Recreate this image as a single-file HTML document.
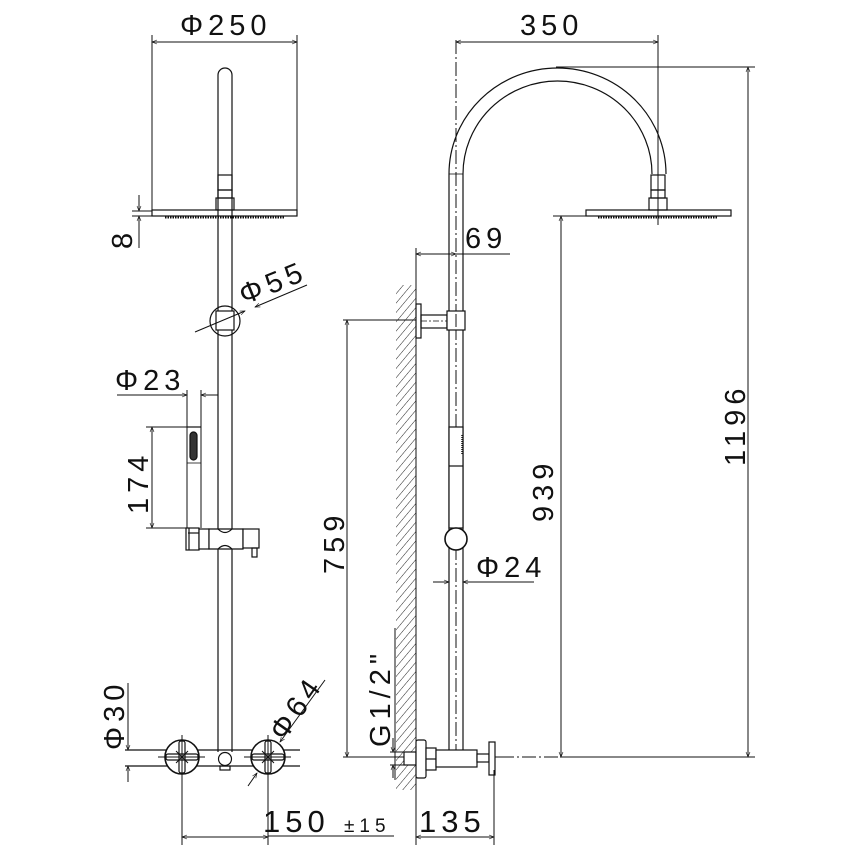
<!DOCTYPE html>
<html><head><meta charset="utf-8"><style>
html,body{margin:0;padding:0;background:#fff}
svg{display:block}
text{font-family:"Liberation Sans",sans-serif;fill:#111;letter-spacing:5px}
</style></head><body>
<svg width="852" height="852" viewBox="0 0 852 852" xmlns="http://www.w3.org/2000/svg">
<defs>
<marker id="a" viewBox="0 0 10 10" refX="10" refY="5" markerWidth="8" markerHeight="5" orient="auto-start-reverse" markerUnits="userSpaceOnUse"><path d="M0,1 L10,5 L0,9" fill="none" stroke="#111" stroke-width="1.2"/></marker>
<pattern id="h" width="6" height="6" patternUnits="userSpaceOnUse" patternTransform="rotate(40)"><line x1="0" y1="0" x2="0" y2="6" stroke="#222" stroke-width="1"/></pattern>
</defs>
<g fill="none" stroke="#111" stroke-width="1.2">
<line x1="152" y1="35" x2="152" y2="216" stroke-width="1"/>
<line x1="297" y1="35" x2="297" y2="216" stroke-width="1"/>
<line x1="152" y1="42" x2="297" y2="42" stroke-width="1" marker-start="url(#a)" marker-end="url(#a)"/>
<path d="M218,216 L218,75 A7,7 0 0 1 232,75 L232,216"/>
<rect x="218" y="175" width="14" height="15"/>
<rect x="218" y="190" width="14" height="8"/>
<rect x="216" y="198" width="18" height="12"/>
<rect x="152" y="210" width="145" height="6"/>
<line x1="165" y1="217.5" x2="285" y2="217.5" stroke-dasharray="1.5 1" stroke-width="2"/>
<line x1="132" y1="211" x2="152" y2="211" stroke-width="1"/>
<line x1="132" y1="216" x2="152" y2="216" stroke-width="1"/>
<line x1="139" y1="195" x2="139" y2="211" stroke-width="1" marker-end="url(#a)"/>
<line x1="139" y1="248" x2="139" y2="216" stroke-width="1" marker-end="url(#a)"/>
<line x1="218" y1="216" x2="218" y2="752"/>
<line x1="232" y1="216" x2="232" y2="752"/>
<circle cx="225" cy="321" r="15"/>
<rect x="216" y="311" width="18" height="19" fill="#fff"/>
<line x1="195" y1="332" x2="245" y2="311" stroke-width="1" marker-end="url(#a)"/>
<line x1="307" y1="285" x2="255" y2="307" stroke-width="1" marker-end="url(#a)"/>
<line x1="187" y1="390" x2="187" y2="528" stroke-width="1"/>
<line x1="201" y1="390" x2="201" y2="528" stroke-width="1"/>
<line x1="117" y1="395" x2="187" y2="395" stroke-width="1" marker-end="url(#a)"/>
<line x1="218" y1="395" x2="201" y2="395" stroke-width="1" marker-end="url(#a)"/>
<line x1="187" y1="427" x2="201" y2="427"/>
<rect x="190" y="432" width="7" height="28" rx="3.5" fill="#333"/>
<line x1="187" y1="463" x2="201" y2="463" stroke-width="0.8"/>
<line x1="146" y1="427" x2="187" y2="427" stroke-width="1"/>
<line x1="146" y1="528" x2="187" y2="528" stroke-width="1"/>
<line x1="152" y1="427" x2="152" y2="528" stroke-width="1" marker-start="url(#a)" marker-end="url(#a)"/>
<rect x="186" y="528" width="13" height="22" fill="#fff"/>
<line x1="189" y1="528" x2="189" y2="550"/>
<line x1="188" y1="533" x2="199" y2="533"/>
<rect x="199" y="529" width="10" height="20" fill="#fff"/>
<path d="M209,529 L243,529 L243,549 L209,549 Z" fill="#fff"/>
<path d="M218,529 Q225,536 232,529" />
<path d="M218,549 Q225,542 232,549" />
<rect x="243" y="529" width="16" height="19" fill="#fff"/>
<rect x="252" y="548" width="5" height="9"/>
<line x1="125" y1="750" x2="300" y2="750"/>
<line x1="125" y1="766" x2="300" y2="766"/>
<circle cx="225" cy="759" r="6.5"/>
<rect x="220" y="766" width="10" height="4"/>
<g id="v">
<circle cx="182" cy="757" r="17" stroke-width="1.6" fill="#fff"/>
<line x1="182" y1="735" x2="182" y2="800" stroke-width="1"/>
<line x1="158" y1="757" x2="205" y2="757" stroke-width="1"/>
<rect x="179" y="741" width="6" height="32" rx="2"/>
<rect x="166" y="754" width="32" height="6" rx="2"/>
<line x1="176" y1="751" x2="188" y2="763" stroke-width="1"/>
<line x1="188" y1="751" x2="176" y2="763" stroke-width="1"/>
</g>
<use href="#v" x="86" y="0"/>
<line x1="128" y1="683" x2="128" y2="750" stroke-width="1" marker-end="url(#a)"/>
<line x1="128" y1="782" x2="128" y2="766" stroke-width="1" marker-end="url(#a)"/>
<line x1="325" y1="680" x2="280" y2="742" stroke-width="1" marker-end="url(#a)"/>
<line x1="248" y1="786" x2="257" y2="773" stroke-width="1" marker-end="url(#a)"/>
<line x1="182" y1="770" x2="182" y2="845" stroke-width="1"/>
<line x1="268" y1="770" x2="268" y2="845" stroke-width="1"/>
<line x1="182" y1="837" x2="268" y2="837" stroke-width="1" marker-start="url(#a)" marker-end="url(#a)"/>
<line x1="268" y1="836" x2="394" y2="836" stroke-width="1"/>

<rect x="396" y="285" width="20" height="505" fill="url(#h)" stroke="none"/>
<line x1="416" y1="248" x2="416" y2="845" stroke-width="1"/>
<line x1="456" y1="40" x2="456" y2="750" stroke-width="1" stroke-dasharray="14 3 2 3"/>
<path d="M449,750 L449,174 A108.5,106 0 0 1 666,174"/>
<path d="M463,750 L463,174 A94.5,93 0 0 1 652,174"/>
<line x1="449" y1="174" x2="463" y2="174" stroke-width="0.8"/>
<rect x="651" y="175" width="14" height="15"/>
<rect x="651" y="190" width="14" height="8"/>
<rect x="649" y="198" width="18" height="12"/>
<rect x="586" y="210" width="145" height="6"/>
<line x1="598" y1="217.5" x2="718" y2="217.5" stroke-dasharray="1.5 1" stroke-width="2"/>
<line x1="658" y1="35" x2="658" y2="225" stroke-width="1"/>
<line x1="456" y1="42" x2="658" y2="42" stroke-width="1" marker-start="url(#a)" marker-end="url(#a)"/>
<line x1="556" y1="67" x2="755" y2="67" stroke-width="1"/>
<line x1="748" y1="67" x2="748" y2="757" stroke-width="1" marker-start="url(#a)" marker-end="url(#a)"/>
<line x1="343" y1="757" x2="500" y2="757" stroke-width="1"/>
<line x1="500" y1="757" x2="560" y2="757" stroke-width="1" stroke-dasharray="14 3 2 3"/>
<line x1="560" y1="757" x2="755" y2="757" stroke-width="1"/>
<line x1="553" y1="216" x2="586" y2="216" stroke-width="1"/>
<line x1="561" y1="216" x2="561" y2="757" stroke-width="1" marker-start="url(#a)" marker-end="url(#a)"/>
<line x1="416" y1="254" x2="456" y2="254" stroke-width="1" marker-start="url(#a)" marker-end="url(#a)"/>
<line x1="456" y1="254" x2="510" y2="254" stroke-width="1"/>
<rect x="416" y="304" width="5" height="34"/>
<rect x="421" y="315" width="26" height="13"/>
<line x1="421" y1="321" x2="447" y2="321" stroke-width="0.8" stroke-dasharray="6 2 2 2"/>
<rect x="447" y="311" width="18" height="19" fill="#fff"/>
<line x1="456" y1="314" x2="456" y2="327" stroke-width="1"/>
<line x1="343" y1="320" x2="416" y2="320" stroke-width="1"/>
<line x1="347" y1="320" x2="347" y2="757" stroke-width="1" marker-start="url(#a)" marker-end="url(#a)"/>
<rect x="449" y="427" width="14" height="101" fill="#fff"/>
<line x1="449" y1="466" x2="463" y2="466"/>
<line x1="462" y1="435" x2="462" y2="455" stroke-width="1.5" stroke-dasharray="1 1"/>
<circle cx="456" cy="539" r="11" stroke-width="1.6" fill="#fff"/>
<line x1="433" y1="582" x2="449" y2="582" stroke-width="1" marker-end="url(#a)"/>
<line x1="534" y1="582" x2="463" y2="582" stroke-width="1" marker-end="url(#a)"/>
<line x1="395" y1="628" x2="395" y2="780" stroke-width="1"/>
<line x1="390" y1="752" x2="404" y2="752" stroke-width="1"/>
<line x1="390" y1="765" x2="404" y2="765" stroke-width="1"/>
<line x1="393" y1="738" x2="393" y2="752" stroke-width="1" marker-end="url(#a)"/>
<line x1="393" y1="778" x2="393" y2="765" stroke-width="1" marker-end="url(#a)"/>
<rect x="404" y="752" width="12" height="13" fill="#fff"/>
<rect x="416" y="740" width="10" height="38" rx="2" fill="#fff"/>
<rect x="426" y="748" width="10" height="22" fill="#fff"/>
<line x1="426" y1="759" x2="436" y2="759"/>
<rect x="436" y="750" width="41" height="17" fill="#fff"/>
<rect x="477" y="754" width="12" height="8" fill="#fff"/>
<rect x="489" y="742" width="6" height="33" fill="#fff"/>
<line x1="494" y1="770" x2="494" y2="845" stroke-width="1"/>
<line x1="416" y1="837" x2="494" y2="837" stroke-width="1" marker-start="url(#a)" marker-end="url(#a)"/>
</g>
<g font-size="29">
<text x="180" y="35">Φ250</text>
<text x="520" y="35">350</text>
<text x="465" y="248">69</text>
<text x="476" y="577">Φ24</text>
<text x="115" y="390">Φ23</text>
<text x="263" y="832" font-size="31">150</text>
<text x="344" y="832" font-size="19" letter-spacing="3">±15</text>
<text x="419" y="832" font-size="31">135</text>
<text transform="translate(132,249) rotate(-90)">8</text>
<text transform="translate(148,514) rotate(-90)">174</text>
<text transform="translate(344,574) rotate(-90)">759</text>
<text transform="translate(553,522) rotate(-90)">939</text>
<text transform="translate(745,466) rotate(-90)">1196</text>
<text transform="translate(124,750) rotate(-90)">Φ30</text>
<text transform="translate(390,747) rotate(-90)">G1/2"</text>
<text transform="translate(244,305) rotate(-22)">Φ55</text>
<text transform="translate(284,742) rotate(-55)">Φ64</text>
</g>
</svg>
</body></html>
